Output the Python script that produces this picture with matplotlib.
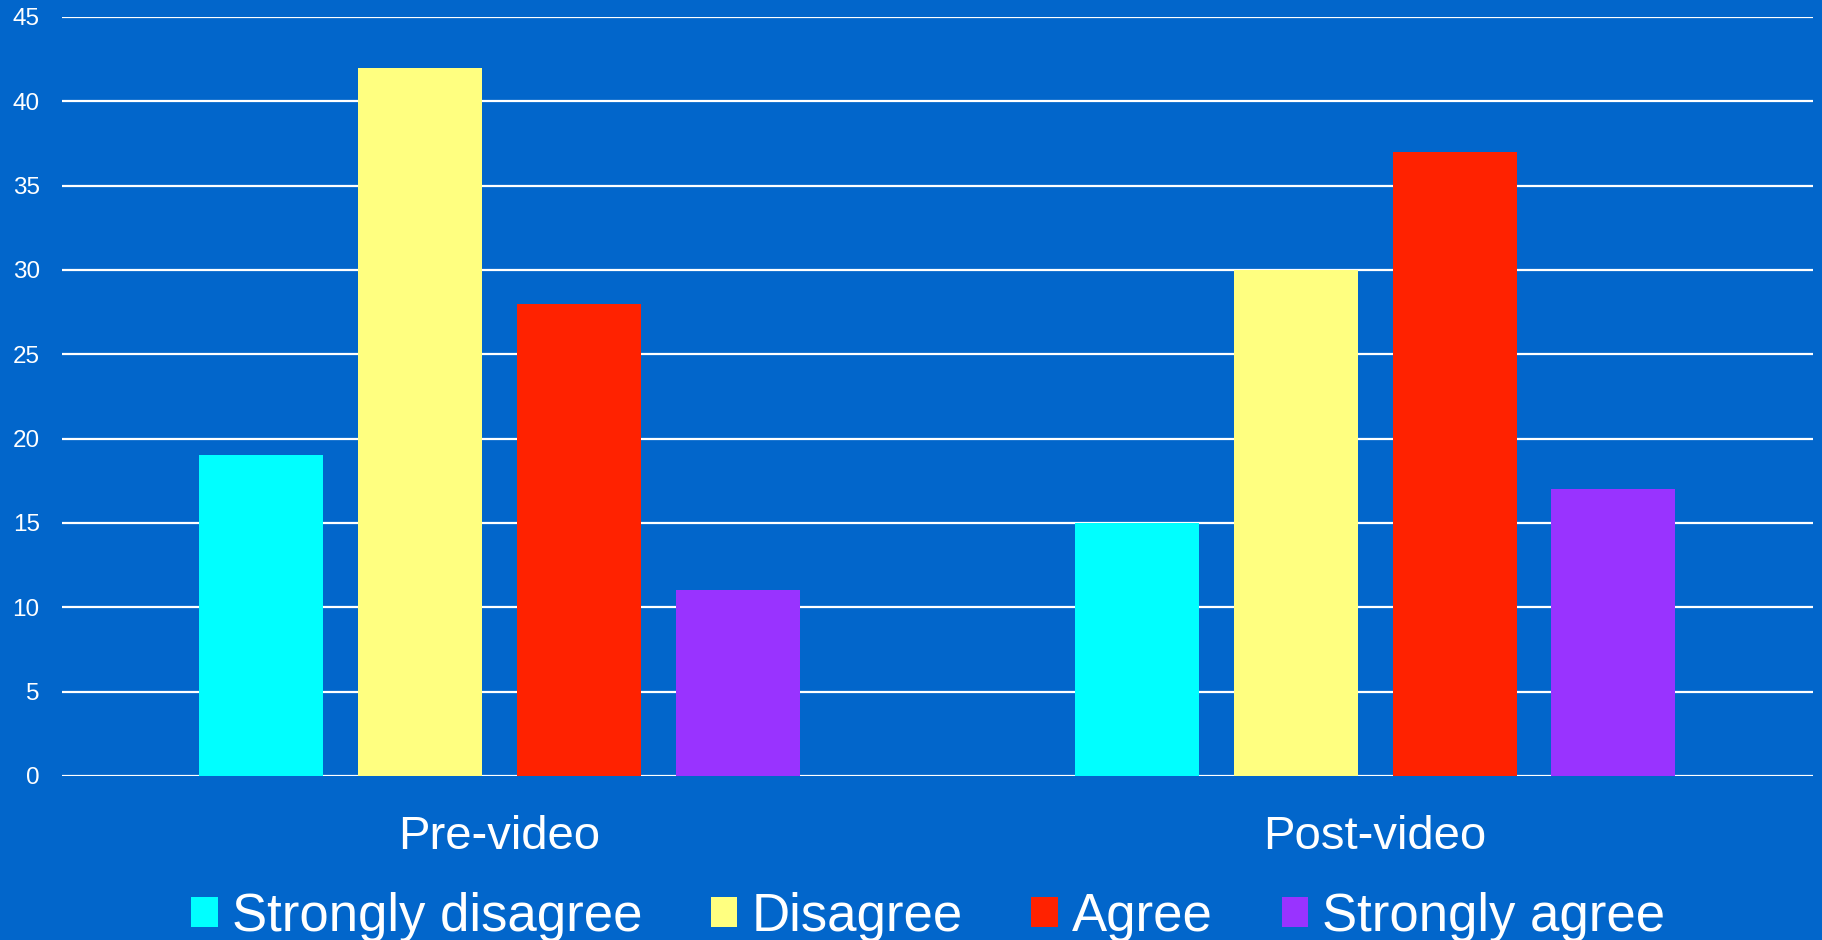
import numpy as np
import matplotlib.pyplot as plt
from matplotlib.patches import Patch

# dados
categorias = ['Pre-video', 'Post-video']
respostas = ['Strongly disagree', 'Disagree', 'Agree', 'Strongly agree']
strongly_disagree = [19, 15]
disagree = [42, 30]
agree = [28, 37]
strongly_agree = [11, 17]
yticks = [0, 5, 10, 15, 20, 25, 30, 35, 40, 45]

valores = [strongly_disagree, disagree, agree, strongly_agree]
cores = ['#00FFFF', '#FFFF80', '#FF2200', '#9933FF']
fundo = '#0266CB'

plt.rcParams['font.family'] = ['Liberation Sans', 'DejaVu Sans']

fig = plt.figure(figsize=(18.22, 9.40), dpi=100, facecolor=fundo)
ax = fig.add_axes([0.034, 0.1745, 0.961, 0.8075])
ax.set_facecolor(fundo)

x = np.arange(len(categorias))
passo = 0.1814
largura = 0.1416
for i, (serie, cor) in enumerate(zip(valores, cores)):
    ax.bar(x + (i - 1.5) * passo, serie, largura, color=cor, zorder=3)

ax.set_xlim(-0.5, 1.5)
ax.set_ylim(0, 45)
ax.set_yticks(yticks)
ax.yaxis.grid(True, color='white', linewidth=1.6, zorder=1)
ax.set_axisbelow(True)
for s in ax.spines.values():
    s.set_visible(False)

ax.set_xticks(x)
ax.set_xticklabels(categorias)
ax.tick_params(axis='y', length=0, pad=16, labelsize=17.5, labelcolor='white')
ax.tick_params(axis='x', length=0, pad=28, labelsize=34, labelcolor='white')

handles = [Patch(facecolor=c, edgecolor='none') for c in cores]
fig.legend(handles, respostas, loc='center', bbox_to_anchor=(0.5095, 0.025),
           ncol=4, frameon=False, fontsize=38, labelcolor='white',
           handlelength=0.5, handleheight=0.5, handletextpad=0.27,
           columnspacing=1.3, borderaxespad=0)

fig.savefig('out.png', dpi=100, facecolor=fundo)
